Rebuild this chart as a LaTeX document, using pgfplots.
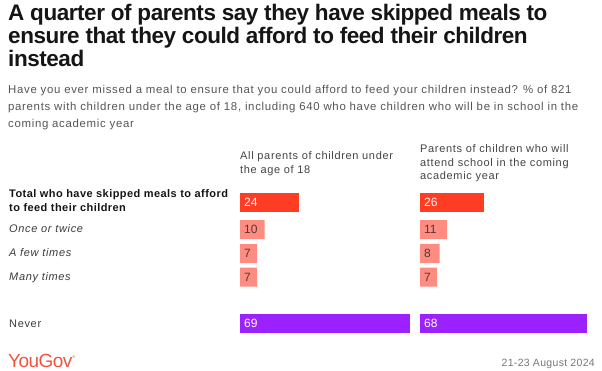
\documentclass[border=0pt]{standalone}
\usepackage{pgfplots}
\pgfplotsset{compat=1.18}
\usepackage{fontspec}
\setmainfont{Liberation Sans}
\definecolor{titlec}{HTML}{151515}
\definecolor{subc}{HTML}{555555}
\definecolor{headc}{HTML}{444444}
\definecolor{rowc}{HTML}{3A3A3A}
\definecolor{redbar}{HTML}{FF3D25}
\definecolor{salbar}{HTML}{FF8C80}
\definecolor{purbar}{HTML}{9B22FF}
\definecolor{saltext}{HTML}{4E3A38}
\definecolor{ygc}{HTML}{F0543F}
\definecolor{datec}{HTML}{777777}
\newcommand{\tfont}{\fontsize{22.5}{26}\bfseries\addfontfeature{LetterSpace=-2}}
\newcommand{\sfnt}{\fontsize{11}{13}\selectfont\addfontfeature{LetterSpace=6}}
\newcommand{\subfnt}{\fontsize{11.4}{13}\selectfont\addfontfeature{LetterSpace=6}}
\pgfplotstableread{
x y
24 202.5
}\leftTotal
\pgfplotstableread{
x y
10 229.5
7 253.5
7 277
}\leftSub
\pgfplotstableread{
x y
69 323.5
}\leftNever
\pgfplotstableread{
x y
26 202.5
}\rightTotal
\pgfplotstableread{
x y
11 229.5
8 253.5
7 277
}\rightSub
\pgfplotstableread{
x y
68 323.5
}\rightNever
\begin{document}
\begin{tikzpicture}[x=1pt,y=1pt]
\path[use as bounding box] (0,0) rectangle (602,-371);
% title
\node[anchor=base west, inner sep=0pt, text=titlec] at (8,-21) {\tfont A quarter of parents say they have skipped meals to};
\node[anchor=base west, inner sep=0pt, text=titlec] at (8,-44) {\tfont ensure that they could afford to feed their children};
\node[anchor=base west, inner sep=0pt, text=titlec] at (8,-67) {\tfont instead};
% subtitle
\node[anchor=base west, inner sep=0pt, text=subc] at (8,-94) {\subfnt Have you ever missed a meal to ensure that you could afford to feed your children instead? \% of 821};
\node[anchor=base west, inner sep=0pt, text=subc] at (8,-111) {\subfnt parents with children under the age of 18, including 640 who have children who will be in school in the};
\node[anchor=base west, inner sep=0pt, text=subc] at (8,-128) {\subfnt coming academic year};
% column headers
\node[anchor=base west, inner sep=0pt, text=headc] at (240,-160) {\sfnt All parents of children under};
\node[anchor=base west, inner sep=0pt, text=headc] at (240,-173.5) {\sfnt the age of 18};
\node[anchor=base west, inner sep=0pt, text=headc] at (420,-153) {\sfnt Parents of children who will};
\node[anchor=base west, inner sep=0pt, text=headc] at (420,-166.5) {\sfnt attend school in the coming};
\node[anchor=base west, inner sep=0pt, text=headc] at (420,-180) {\sfnt academic year};
% row labels
\node[anchor=base west, inner sep=0pt, text=titlec] at (9,-197.5) {\sfnt\bfseries\addfontfeature{LetterSpace=4} Total who have skipped meals to afford};
\node[anchor=base west, inner sep=0pt, text=titlec] at (9,-211.5) {\sfnt\bfseries\addfontfeature{LetterSpace=4} to feed their children};
\node[anchor=base west, inner sep=0pt, text=rowc] at (9,-233) {\sfnt\itshape Once or twice};
\node[anchor=base west, inner sep=0pt, text=rowc] at (9,-257) {\sfnt\itshape A few times};
\node[anchor=base west, inner sep=0pt, text=rowc] at (9,-280.5) {\sfnt\itshape Many times};
\node[anchor=base west, inner sep=0pt, text=rowc] at (9,-327) {\sfnt Never};
% footer
\node[anchor=base west, inner sep=0pt, text=ygc] at (8,-367) {\fontsize{19}{22}\selectfont\addfontfeature{LetterSpace=-3}YouGov\raisebox{9pt}{\fontsize{4}{4}\selectfont\textregistered}};
\node[anchor=base east, inner sep=0pt, text=datec] at (595,-366) {\fontsize{10.5}{12}\selectfont\addfontfeature{LetterSpace=3}21-23 August 2024};
% axes
\pgfplotsset{panel/.style={anchor=north west, width=172pt, height=146pt, scale only axis,
  xmin=0, xmax=70, ymin=190, ymax=336, y dir=reverse, hide axis, clip=false},
  barp/.style={xbar, bar shift=0pt, bar width=19, draw=none, fill=#1},
  labp/.style={only marks, mark=none, nodes near coords, point meta=explicit symbolic,
    nodes near coords style={anchor=west, inner sep=0pt, xshift=4pt, text=#1, font=\fontsize{12}{12}\selectfont}}}
\begin{axis}[panel, at={(240pt,-190pt)}]
\addplot[barp=redbar] table[x=x,y=y] {\leftTotal};
\addplot[barp=salbar] table[x=x,y=y] {\leftSub};
\addplot[barp=purbar] table[x=x,y=y] {\leftNever};
\addplot[labp=white] coordinates {(0,202.5) [24] (0,323.5) [69]};
\addplot[labp=saltext] coordinates {(0,229.5) [10] (0,253.5) [7] (0,277) [7]};
\end{axis}
\begin{axis}[panel, at={(420pt,-190pt)}]
\addplot[barp=redbar] table[x=x,y=y] {\rightTotal};
\addplot[barp=salbar] table[x=x,y=y] {\rightSub};
\addplot[barp=purbar] table[x=x,y=y] {\rightNever};
\addplot[labp=white] coordinates {(0,202.5) [26] (0,323.5) [68]};
\addplot[labp=saltext] coordinates {(0,229.5) [11] (0,253.5) [8] (0,277) [7]};
\end{axis}
\end{tikzpicture}
\end{document}
